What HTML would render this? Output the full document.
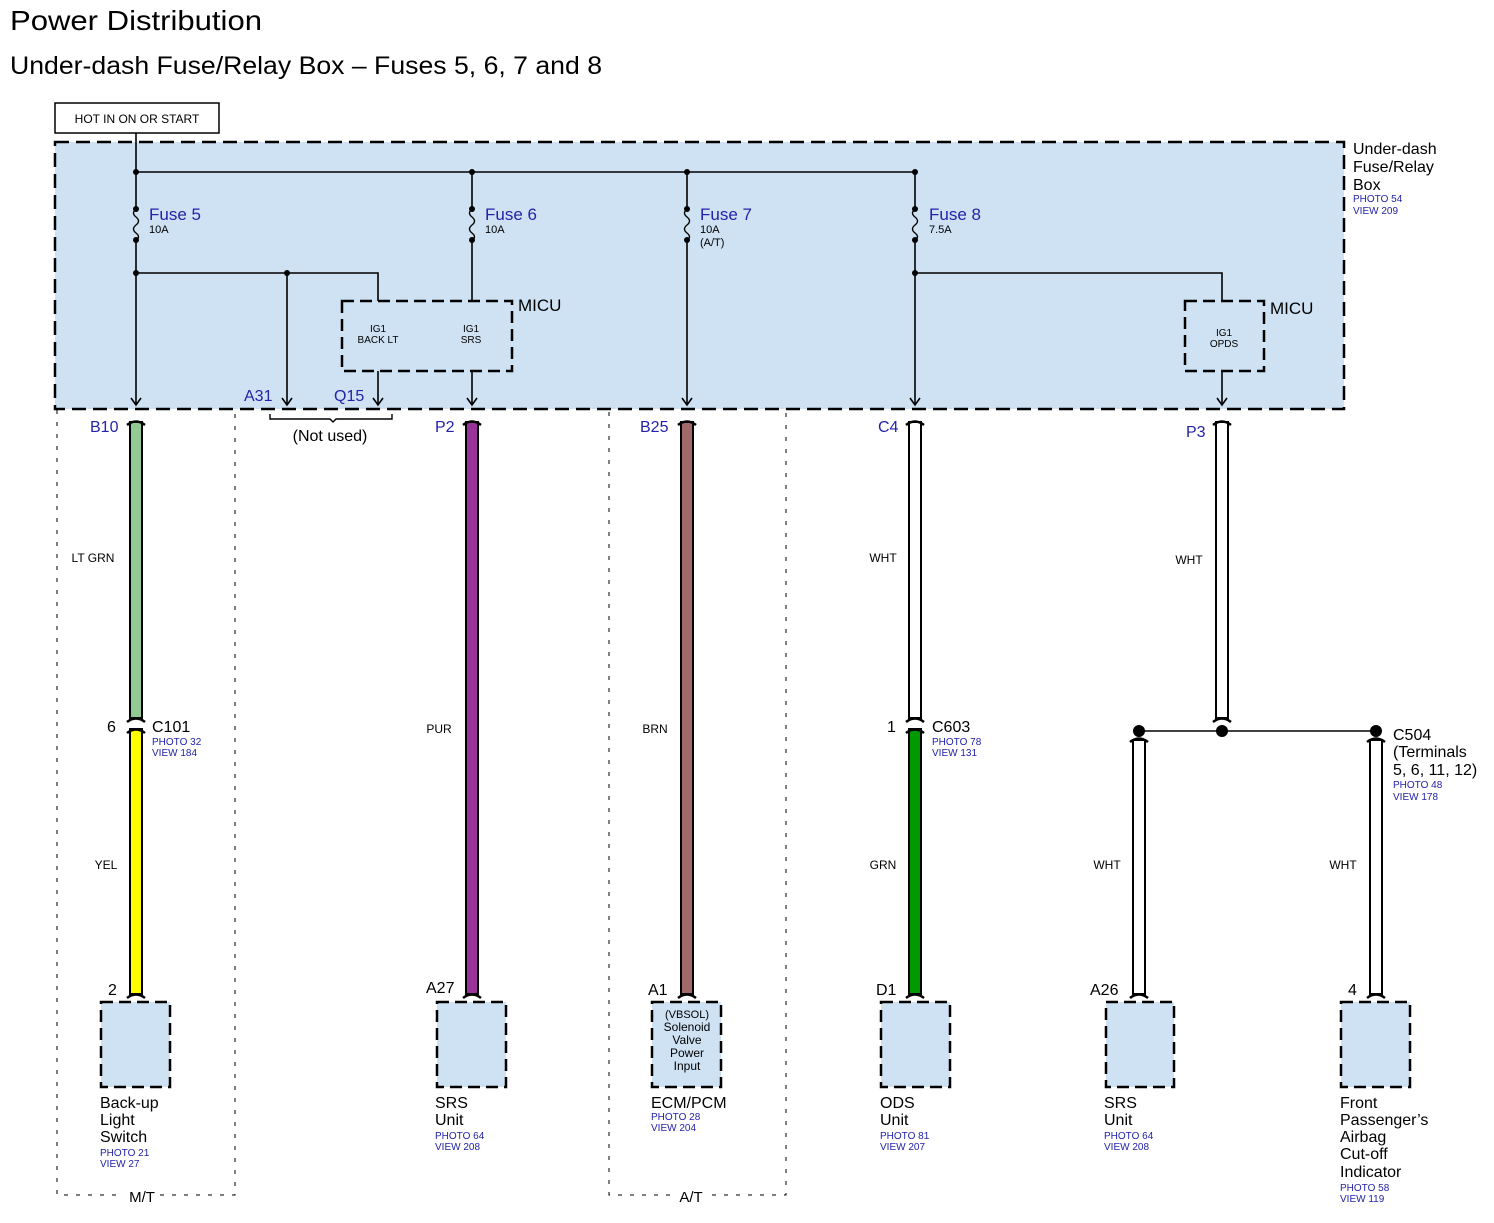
<!DOCTYPE html>
<html><head><meta charset="utf-8"><style>
html,body{margin:0;padding:0;background:#fff;}
svg{display:block;font-family:"Liberation Sans",Arial,sans-serif;}
.b{fill:#2222aa}
.s{font-size:10px;fill:#2222aa}
</style></head><body>
<svg width="1494" height="1223" viewBox="0 0 1494 1223" xmlns="http://www.w3.org/2000/svg">
<text x="10" y="30" font-size="28" textLength="252" lengthAdjust="spacingAndGlyphs">Power Distribution</text>
<text x="10" y="74" font-size="25" textLength="592" lengthAdjust="spacingAndGlyphs">Under-dash Fuse/Relay Box – Fuses 5, 6, 7 and 8</text>

<rect x="55" y="103" width="164" height="30" fill="#fff" stroke="#000" stroke-width="1.5"/>
<text x="137" y="123" font-size="12" text-anchor="middle">HOT IN ON OR START</text>

<g fill="none" stroke="#000" stroke-width="1" stroke-dasharray="4,8">
<path d="M57 410 V1195 H120 M160 1195 H235 V410"/>
<path d="M609 412 V1195 H670 M712 1195 H786 V412"/>
</g>
<text x="142" y="1202" font-size="15" text-anchor="middle">M/T</text>
<text x="691" y="1202" font-size="15" text-anchor="middle">A/T</text>

<rect x="55" y="142" width="1289" height="267" fill="#cfe2f3" stroke="#000" stroke-width="2.5" stroke-dasharray="14,7"/>
<text x="1353" y="154" font-size="16">Under-dash</text>
<text x="1353" y="172" font-size="16">Fuse/Relay</text>
<text x="1353" y="190" font-size="16">Box</text>
<text x="1353" y="202" class="s">PHOTO 54</text>
<text x="1353" y="214" class="s">VIEW 209</text>

<g stroke="#000" stroke-width="1.6" fill="none">
<path d="M136 133 V405"/>
<path d="M136 172 H915"/>
<path d="M472 172 V301"/>
<path d="M687 172 V405"/>
<path d="M915 172 V405"/>
<path d="M136 273 H378 V301"/>
<path d="M287 273 V405"/>
<path d="M378 371 V405"/>
<path d="M472 371 V405"/>
<path d="M915 273 H1222 V301"/>
<path d="M1222 371 V405"/>
<path d="M131 398 L136 405 L141 398 M282 398 L287 405 L292 398 M373 398 L378 405 L383 398 M467 398 L472 405 L477 398 M682 398 L687 405 L692 398 M910 398 L915 405 L920 398 M1217 398 L1222 405 L1227 398"/>
</g>
<g>
<rect x="131" y="209" width="10" height="31" fill="#cfe2f3"/>
<rect x="467" y="209" width="10" height="31" fill="#cfe2f3"/>
<rect x="682" y="209" width="10" height="31" fill="#cfe2f3"/>
<rect x="910" y="209" width="10" height="31" fill="#cfe2f3"/>
</g>
<g stroke="#000" stroke-width="1.4" fill="none">
<path d="M136 209 q-5 4 0 8 q5 4 0 8 q-5 4 0 8 q5 4 0 7"/>
<path d="M472 209 q-5 4 0 8 q5 4 0 8 q-5 4 0 8 q5 4 0 7"/>
<path d="M687 209 q-5 4 0 8 q5 4 0 8 q-5 4 0 8 q5 4 0 7"/>
<path d="M915 209 q-5 4 0 8 q5 4 0 8 q-5 4 0 8 q5 4 0 7"/>
</g>
<g fill="#000">
<circle cx="136" cy="172" r="3"/><circle cx="472" cy="172" r="3"/><circle cx="687" cy="172" r="3"/><circle cx="915" cy="172" r="3"/>
<circle cx="136" cy="209" r="3"/><circle cx="136" cy="240" r="3"/>
<circle cx="472" cy="209" r="3"/><circle cx="472" cy="240" r="3"/>
<circle cx="687" cy="209" r="3"/><circle cx="687" cy="240" r="3"/>
<circle cx="915" cy="209" r="3"/><circle cx="915" cy="240" r="3"/>
<circle cx="136" cy="273" r="3"/><circle cx="287" cy="273" r="3"/><circle cx="915" cy="273" r="3"/>
</g>
<text x="149" y="220" font-size="17" class="b">Fuse 5</text><text x="149" y="233" font-size="11">10A</text>
<text x="485" y="220" font-size="17" class="b">Fuse 6</text><text x="485" y="233" font-size="11">10A</text>
<text x="700" y="220" font-size="17" class="b">Fuse 7</text><text x="700" y="233" font-size="11">10A</text><text x="700" y="246" font-size="11">(A/T)</text>
<text x="929" y="220" font-size="17" class="b">Fuse 8</text><text x="929" y="233" font-size="11">7.5A</text>

<rect x="342" y="301" width="170" height="70" fill="#cfe2f3" stroke="#000" stroke-width="2.5" stroke-dasharray="12,6"/>
<text x="518" y="311" font-size="17">MICU</text>
<text x="378" y="332" font-size="10" text-anchor="middle">IG1</text><text x="378" y="343" font-size="10" text-anchor="middle">BACK LT</text>
<text x="471" y="332" font-size="10" text-anchor="middle">IG1</text><text x="471" y="343" font-size="10" text-anchor="middle">SRS</text>
<rect x="1185" y="301" width="79" height="70" fill="#cfe2f3" stroke="#000" stroke-width="2.5" stroke-dasharray="12,6"/>
<text x="1270" y="314" font-size="17">MICU</text>
<text x="1224" y="336" font-size="10" text-anchor="middle">IG1</text><text x="1224" y="347" font-size="10" text-anchor="middle">OPDS</text>

<text x="244" y="401" font-size="16" class="b">A31</text>
<text x="334" y="401" font-size="16" class="b">Q15</text>
<path d="M270 414 V419 H330 L333 422 L336 419 H392 V414" fill="none" stroke="#000" stroke-width="1.4"/>
<text x="330" y="441" font-size="16" text-anchor="middle">(Not used)</text>

<g stroke="#000" stroke-width="2">
<rect x="130" y="422" width="12" height="296" fill="#93c993"/>
<rect x="130" y="729" width="12" height="265" fill="#ffff00"/>
<rect x="466" y="422" width="12" height="572" fill="#993399"/>
<rect x="681" y="422" width="12" height="572" fill="#a06a6a"/>
<rect x="909" y="422" width="12" height="296" fill="#fff"/>
<rect x="909" y="729" width="12" height="265" fill="#009900"/>
<rect x="1216" y="422" width="12" height="296" fill="#fff"/>
<rect x="1133" y="740" width="12" height="254" fill="#fff"/>
<rect x="1370" y="740" width="12" height="254" fill="#fff"/>
</g>
<g stroke="#000" stroke-width="2.5" fill="none">
<path d="M127 425 Q136 418 145 425"/><path d="M463 425 Q472 418 481 425"/><path d="M678 425 Q687 418 696 425"/>
<path d="M906 425 Q915 418 924 425"/><path d="M1213 425 Q1222 418 1231 425"/>
<path d="M127 722 Q136 715 145 722"/><path d="M127 733 Q136 726 145 733"/>
<path d="M906 722 Q915 715 924 722"/><path d="M906 733 Q915 726 924 733"/>
<path d="M1213 722 Q1222 715 1231 722"/>
<path d="M1130 742 Q1139 735 1148 742"/><path d="M1367 742 Q1376 735 1385 742"/>
<path d="M127 998 Q136 991 145 998"/><path d="M463 998 Q472 991 481 998"/><path d="M678 998 Q687 991 696 998"/>
<path d="M906 998 Q915 991 924 998"/><path d="M1130 998 Q1139 991 1148 998"/><path d="M1367 998 Q1376 991 1385 998"/>
</g>
<path d="M1139 731 H1376" stroke="#000" stroke-width="1.6"/>
<g fill="#000"><circle cx="1139" cy="731" r="6"/><circle cx="1222" cy="731" r="6"/><circle cx="1376" cy="731" r="6"/></g>

<text x="90" y="432" font-size="16" class="b">B10</text>
<text x="435" y="432" font-size="16" class="b">P2</text>
<text x="640" y="432" font-size="16" class="b">B25</text>
<text x="878" y="432" font-size="16" class="b">C4</text>
<text x="1186" y="437" font-size="16" class="b">P3</text>
<g font-size="12" text-anchor="middle">
<text x="93" y="562">LT GRN</text><text x="106" y="869">YEL</text>
<text x="439" y="733">PUR</text><text x="655" y="733">BRN</text>
<text x="883" y="562">WHT</text><text x="883" y="869">GRN</text>
<text x="1189" y="564">WHT</text><text x="1107" y="869">WHT</text><text x="1343" y="869">WHT</text>
</g>
<text x="107" y="732" font-size="16">6</text>
<text x="152" y="732" font-size="16">C101</text><text x="152" y="745" class="s">PHOTO 32</text><text x="152" y="756" class="s">VIEW 184</text>
<text x="887" y="732" font-size="16">1</text>
<text x="932" y="732" font-size="16">C603</text><text x="932" y="745" class="s">PHOTO 78</text><text x="932" y="756" class="s">VIEW 131</text>
<text x="1393" y="740" font-size="16">C504</text>
<text x="1393" y="757" font-size="16">(Terminals</text>
<text x="1393" y="775" font-size="16">5, 6, 11, 12)</text>
<text x="1393" y="788" class="s">PHOTO 48</text><text x="1393" y="800" class="s">VIEW 178</text>

<text x="108" y="995" font-size="16">2</text>
<text x="426" y="993" font-size="16">A27</text>
<text x="648" y="995" font-size="16">A1</text>
<text x="876" y="995" font-size="16">D1</text>
<text x="1090" y="995" font-size="16">A26</text>
<text x="1348" y="995" font-size="16">4</text>

<g fill="#cfe2f3" stroke="#000" stroke-width="2.5" stroke-dasharray="12,6">
<rect x="101" y="1002" width="69" height="85"/>
<rect x="437" y="1002" width="69" height="85"/>
<rect x="652" y="1002" width="69" height="85"/>
<rect x="881" y="1002" width="69" height="85"/>
<rect x="1106" y="1002" width="68" height="85"/>
<rect x="1341" y="1002" width="69" height="85"/>
</g>
<g font-size="12" text-anchor="middle">
<text x="687" y="1018" font-size="11">(VBSOL)</text><text x="687" y="1031">Solenoid</text><text x="687" y="1044">Valve</text><text x="687" y="1057">Power</text><text x="687" y="1070">Input</text>
</g>
<g font-size="16">
<text x="100" y="1108">Back-up</text><text x="100" y="1125">Light</text><text x="100" y="1142">Switch</text>
<text x="100" y="1156" class="s">PHOTO 21</text><text x="100" y="1167" class="s">VIEW 27</text>
<text x="435" y="1108">SRS</text><text x="435" y="1125">Unit</text>
<text x="435" y="1139" class="s">PHOTO 64</text><text x="435" y="1150" class="s">VIEW 208</text>
<text x="651" y="1108">ECM/PCM</text>
<text x="651" y="1120" class="s">PHOTO 28</text><text x="651" y="1131" class="s">VIEW 204</text>
<text x="880" y="1108">ODS</text><text x="880" y="1125">Unit</text>
<text x="880" y="1139" class="s">PHOTO 81</text><text x="880" y="1150" class="s">VIEW 207</text>
<text x="1104" y="1108">SRS</text><text x="1104" y="1125">Unit</text>
<text x="1104" y="1139" class="s">PHOTO 64</text><text x="1104" y="1150" class="s">VIEW 208</text>
<text x="1340" y="1108">Front</text><text x="1340" y="1125">Passenger’s</text><text x="1340" y="1142">Airbag</text><text x="1340" y="1159">Cut-off</text><text x="1340" y="1177">Indicator</text>
<text x="1340" y="1191" class="s">PHOTO 58</text><text x="1340" y="1202" class="s">VIEW 119</text>
</g>
</svg>
</body></html>
